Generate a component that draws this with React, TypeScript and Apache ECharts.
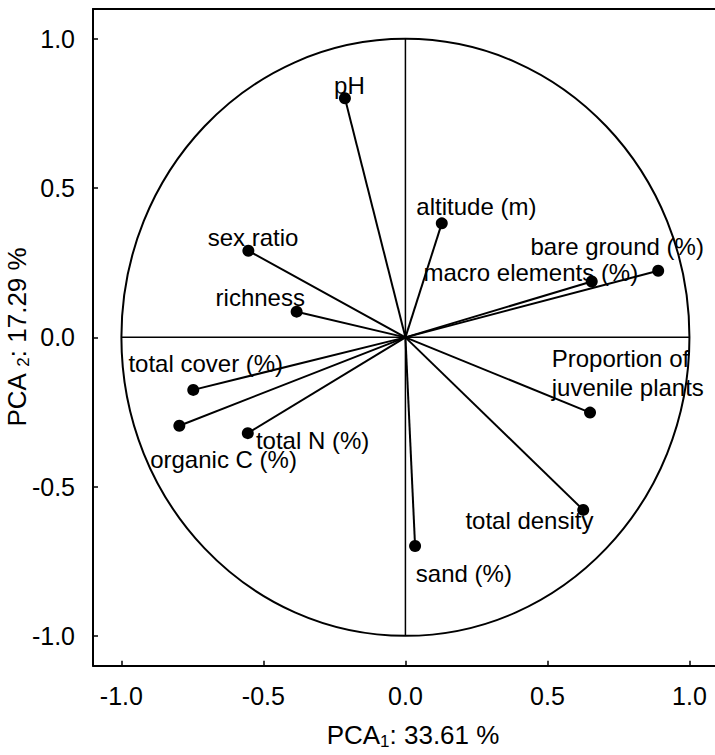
import React, { useEffect, useRef } from "react";
import * as echarts from "echarts";

// Variable names and loadings on the first two principal components
const variables = [
  "pH",
  "altitude (m)",
  "sex ratio",
  "richness",
  "bare ground (%)",
  "macro elements (%)",
  "Proportion of\njuvenile plants",
  "total density",
  "sand (%)",
  "total cover (%)",
  "organic C (%)",
  "total N (%)",
];
const pca1 = [-0.213, 0.128, -0.553, -0.383, 0.89, 0.656, 0.65, 0.626, 0.034, -0.747, -0.796, -0.555];
const pca2 = [0.801, 0.382, 0.29, 0.086, 0.223, 0.187, -0.252, -0.578, -0.699, -0.176, -0.296, -0.321];

// Tick values for both axes
const tickValues = [-1, -0.5, 0, 0.5, 1];

// Reference shapes: unit correlation circle and cross
const circleCenter = [0, 0];
const circleRadius = 1;
const crossExtent = [-1, 1];

// Label placement (pixels, relative to the marker centre)
const labelDx = [4.5, 34.6, 4.7, -36.4, -41, -60.9, -38.3, -53.8, 48.8, 12.5, 44.2, 64.8];
const labelDy = [-12.3, -17.3, -13.2, -13.7, -24.7, -9.2, -39.8, 10.5, 27.3, -26.7, 33.3, 7.7];
const labelAlign = ["center", "center", "center", "center", "center", "center", "left", "center", "center", "center", "center", "center"];

const X_MIN = -1.1;
const X_MAX = 1.09;
const Y_MIN = -1.1;
const Y_MAX = 1.1;
const SYMBOL = 12;

export default function App() {
  const ref = useRef<HTMLDivElement>(null);

  useEffect(() => {
    document.body.style.margin = "0";
    const chart = echarts.init(ref.current as HTMLDivElement, null, { renderer: "svg" });
    const font = "'Liberation Sans', Arial, Helvetica, sans-serif";
    const black = "#000";

    const nameRich = {
      a: { fontSize: 26, lineHeight: 30, fontFamily: font, color: black },
      s: { fontSize: 17, lineHeight: 8, verticalAlign: "bottom", fontFamily: font, color: black },
    };

    const points = variables.map((name, i) => ({
      name,
      value: [pca1[i], pca2[i]],
      label: {
        position: [SYMBOL / 2 + labelDx[i], SYMBOL / 2 + labelDy[i]],
        align: labelAlign[i],
        verticalAlign: "middle",
      },
    }));

    const option: any = {
      animation: false,
      textStyle: { fontFamily: font },
      grid: { left: 93, right: 0, top: 9, bottom: 89.3, containLabel: false, outerBoundsMode: "none" },
      xAxis: [
        {
          type: "value",
          position: "bottom",
          min: X_MIN,
          max: X_MAX,
          axisLine: { show: true, onZero: false, lineStyle: { color: black, width: 2 } },
          axisTick: { show: true, inside: true, length: 5, customValues: tickValues, lineStyle: { color: black, width: 1.5 } },
          axisLabel: {
            customValues: tickValues,
            formatter: (v: number) => Number(v).toFixed(1),
            fontSize: 25,
            color: black,
            margin: 18,
            fontFamily: font,
          },
          splitLine: { show: false },
          name: "{a|PCA}{s|1}{a|: 33.61 %}",
          nameLocation: "middle",
          nameGap: 54.5,
          nameMoveOverlap: false,
          nameTextStyle: { fontSize: 26, color: black, fontFamily: font, rich: nameRich, padding: [0, 0, 0, 18] },
        },
        {
          type: "value",
          position: "top",
          min: X_MIN,
          max: X_MAX,
          axisLine: { show: true, onZero: false, lineStyle: { color: black, width: 2 } },
          axisTick: { show: false },
          axisLabel: { show: false },
          splitLine: { show: false },
        },
      ],
      yAxis: {
        type: "value",
        position: "left",
        min: Y_MIN,
        max: Y_MAX,
        axisLine: { show: true, onZero: false, lineStyle: { color: black, width: 2 } },
        axisTick: { show: true, inside: true, length: 5, customValues: tickValues, lineStyle: { color: black, width: 1.5 } },
        axisLabel: {
          customValues: tickValues,
          formatter: (v: number) => Number(v).toFixed(1),
          fontSize: 25,
          color: black,
          margin: 18,
          fontFamily: font,
        },
        splitLine: { show: false },
        name: "{a|PCA }{s|2}{a|: 17.29 %}",
        nameLocation: "middle",
        nameGap: 61,
        nameMoveOverlap: false,
        nameTextStyle: { fontSize: 26, color: black, fontFamily: font, rich: nameRich },
      },
      series: [
        {
          type: "custom",
          coordinateSystem: "cartesian2d",
          silent: true,
          z: 1,
          data: [[circleCenter[0], circleCenter[1], circleRadius]],
          renderItem: (_p: any, api: any) => {
            const c = api.coord([api.value(0), api.value(1)]);
            const s = api.size([api.value(2), api.value(2)]);
            return {
              type: "ellipse",
              shape: { cx: c[0], cy: c[1], rx: s[0], ry: s[1] },
              style: { fill: "none", stroke: black, lineWidth: 2 },
            };
          },
        },
        {
          type: "line",
          silent: true,
          z: 1,
          showSymbol: false,
          symbol: "none",
          lineStyle: { color: black, width: 1.5 },
          data: [[crossExtent[0], 0], [crossExtent[1], 0]],
        },
        {
          type: "line",
          silent: true,
          z: 1,
          showSymbol: false,
          symbol: "none",
          lineStyle: { color: black, width: 1.5 },
          data: [[0, crossExtent[0]], [0, crossExtent[1]]],
        },
        {
          type: "custom",
          coordinateSystem: "cartesian2d",
          silent: true,
          z: 2,
          data: variables.map((_, i) => [pca1[i], pca2[i]]),
          renderItem: (_p: any, api: any) => {
            const o = api.coord([0, 0]);
            const e = api.coord([api.value(0), api.value(1)]);
            return {
              type: "line",
              shape: { x1: o[0], y1: o[1], x2: e[0], y2: e[1] },
              style: { stroke: black, lineWidth: 2 },
            };
          },
        },
        {
          type: "scatter",
          z: 3,
          symbol: "circle",
          symbolSize: SYMBOL,
          itemStyle: { color: black, opacity: 1 },
          label: {
            show: true,
            formatter: "{b}",
            fontSize: 24,
            lineHeight: 29,
            color: black,
            fontFamily: font,
            textBorderWidth: 0,
          },
          labelLayout: { hideOverlap: false },
          data: points,
        },
      ],
    };

    chart.setOption(option);
    return () => chart.dispose();
  }, []);

  return <div ref={ref} style={{ width: 715, height: 755 }} />;
}
